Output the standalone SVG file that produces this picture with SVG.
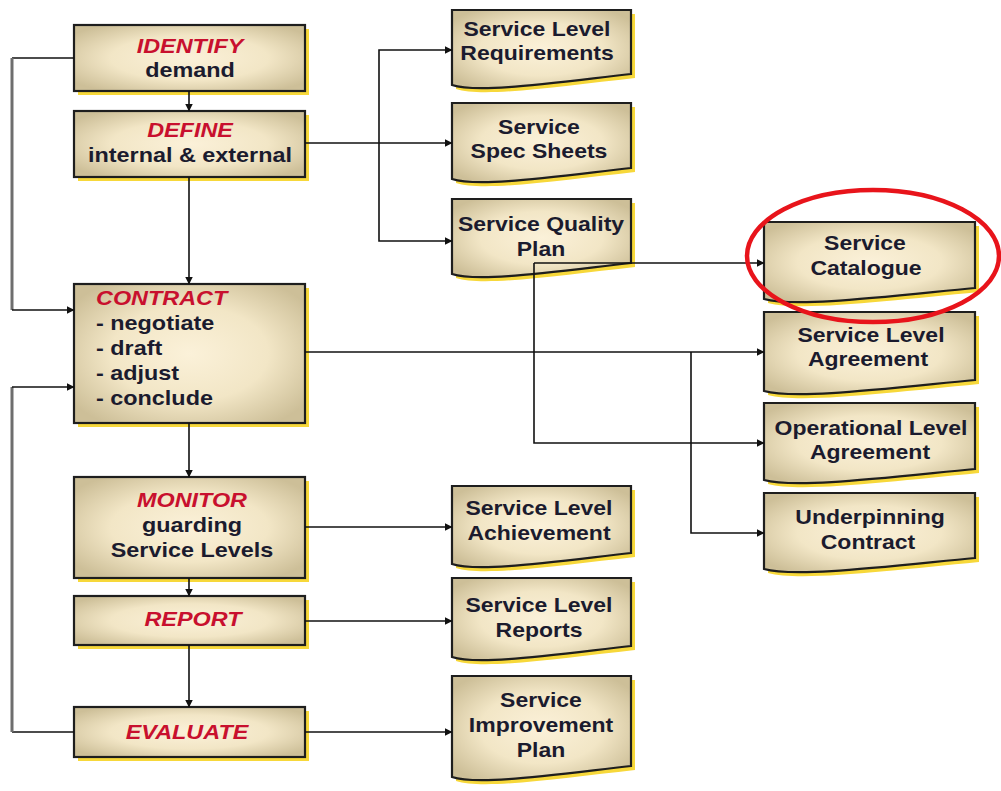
<svg xmlns="http://www.w3.org/2000/svg" width="1001" height="791" viewBox="0 0 1001 791">
<defs>
<radialGradient id="g" cx="0.5" cy="0.5" r="0.62">
<stop offset="0" stop-color="#fbf1d9"/>
<stop offset="0.55" stop-color="#f2e6c6"/>
<stop offset="1" stop-color="#cdbf98"/>
</radialGradient>
<marker id="ah" viewBox="0 0 8 8" refX="7.5" refY="4" markerWidth="8" markerHeight="8" markerUnits="userSpaceOnUse" orient="auto">
<path d="M0 0 L8 4 L0 8 Z" fill="#111"/>
</marker>
</defs>
<style>
.sh{fill:#f7d83a;}
.bx{fill:url(#g);stroke:#1e1e1e;stroke-width:2.2;}
.t{font-family:"Liberation Sans",Arial,sans-serif;font-weight:bold;font-size:20px;fill:#1b1b2e;text-anchor:middle;}
.r{fill:#c8102e;font-style:italic;}
.l{text-anchor:start;}
.c{fill:none;stroke:#111;stroke-width:1.6;}
.a{marker-end:url(#ah);}
.gr{fill:none;stroke:#6e6e6e;stroke-width:3;}
</style>
<rect width="1001" height="791" fill="#ffffff"/>

<g id="identify">
<rect class="sh" x="78" y="29" width="231" height="66"/>
<rect class="bx" x="74" y="25" width="231" height="66"/>
<text class="t" transform="translate(190 53) scale(1.17 1)"><tspan class="r">IDENTIFY</tspan></text>
<text class="t" transform="translate(190 77) scale(1.17 1)">demand</text>
</g>
<g id="define">
<rect class="sh" x="78" y="115" width="231" height="66"/>
<rect class="bx" x="74" y="111" width="231" height="66"/>
<text class="t" transform="translate(190 137) scale(1.17 1)"><tspan class="r">DEFINE</tspan></text>
<text class="t" transform="translate(190 162) scale(1.17 1)">internal &amp; external</text>
</g>
<g id="contract">
<rect class="sh" x="78" y="288" width="231" height="139"/>
<rect class="bx" x="74" y="284" width="231" height="139"/>
<text class="t l" transform="translate(96 305) scale(1.17 1)"><tspan class="r">CONTRACT</tspan></text>
<text class="t l" transform="translate(96 330) scale(1.17 1)">- negotiate</text>
<text class="t l" transform="translate(96 355) scale(1.17 1)">- draft</text>
<text class="t l" transform="translate(96 380) scale(1.17 1)">- adjust</text>
<text class="t l" transform="translate(96 405) scale(1.17 1)">- conclude</text>
</g>
<g id="monitor">
<rect class="sh" x="78" y="481" width="231" height="101"/>
<rect class="bx" x="74" y="477" width="231" height="101"/>
<text class="t" transform="translate(192 507) scale(1.17 1)"><tspan class="r">MONITOR</tspan></text>
<text class="t" transform="translate(192 532) scale(1.17 1)">guarding</text>
<text class="t" transform="translate(192 557) scale(1.17 1)">Service Levels</text>
</g>
<g id="report">
<rect class="sh" x="78" y="600" width="231" height="49"/>
<rect class="bx" x="74" y="596" width="231" height="49"/>
<text class="t" transform="translate(193 626) scale(1.17 1)"><tspan class="r">REPORT</tspan></text>
</g>
<g id="evaluate">
<rect class="sh" x="78" y="711" width="231" height="50"/>
<rect class="bx" x="74" y="707" width="231" height="50"/>
<text class="t" transform="translate(187 739) scale(1.17 1)"><tspan class="r">EVALUATE</tspan></text>
</g>

<g id="slr">
<path class="sh" transform="translate(4 4)" d="M452 10 H631 V74 C559 82 479 94 452 85 Z"/>
<path class="bx" d="M452 10 H631 V74 C559 82 479 94 452 85 Z"/>
<text class="t" transform="translate(537 36) scale(1.15 1)">Service Level</text>
<text class="t" transform="translate(537 60) scale(1.15 1)">Requirements</text>
</g>
<g id="specsheets">
<path class="sh" transform="translate(4 4)" d="M452 103 H631 V168 C559 176 479 188 452 179 Z"/>
<path class="bx" d="M452 103 H631 V168 C559 176 479 188 452 179 Z"/>
<text class="t" transform="translate(539 134) scale(1.15 1)">Service</text>
<text class="t" transform="translate(539 158) scale(1.15 1)">Spec Sheets</text>
</g>
<g id="sqp">
<path class="sh" transform="translate(4 4)" d="M452 199 H631 V263 C559 271 479 283 452 274 Z"/>
<path class="bx" d="M452 199 H631 V263 C559 271 479 283 452 274 Z"/>
<text class="t" transform="translate(541 231) scale(1.15 1)">Service Quality</text>
<text class="t" transform="translate(541 256) scale(1.15 1)">Plan</text>
</g>
<g id="slach">
<path class="sh" transform="translate(4 4)" d="M452 486 H631 V553 C559 561 479 573 452 564 Z"/>
<path class="bx" d="M452 486 H631 V553 C559 561 479 573 452 564 Z"/>
<text class="t" transform="translate(539 515) scale(1.15 1)">Service Level</text>
<text class="t" transform="translate(539 540) scale(1.15 1)">Achievement</text>
</g>
<g id="slreports">
<path class="sh" transform="translate(4 4)" d="M452 578 H631 V646 C559 654 479 666 452 657 Z"/>
<path class="bx" d="M452 578 H631 V646 C559 654 479 666 452 657 Z"/>
<text class="t" transform="translate(539 612) scale(1.15 1)">Service Level</text>
<text class="t" transform="translate(539 637) scale(1.15 1)">Reports</text>
</g>
<g id="sip">
<path class="sh" transform="translate(4 4)" d="M452 676 H631 V766 C559 774 479 786 452 777 Z"/>
<path class="bx" d="M452 676 H631 V766 C559 774 479 786 452 777 Z"/>
<text class="t" transform="translate(541 707) scale(1.15 1)">Service</text>
<text class="t" transform="translate(541 732) scale(1.15 1)">Improvement</text>
<text class="t" transform="translate(541 757) scale(1.15 1)">Plan</text>
</g>

<g id="catalogue">
<path class="sh" transform="translate(4 4)" d="M764 222 H975 V288 C891 296 796 308 764 299 Z"/>
<path class="bx" d="M764 222 H975 V288 C891 296 796 308 764 299 Z"/>
<text class="t" transform="translate(865 250) scale(1.15 1)">Service</text>
<text class="t" transform="translate(866 275) scale(1.15 1)">Catalogue</text>
</g>
<g id="sla">
<path class="sh" transform="translate(4 4)" d="M764 312 H975 V380 C891 388 796 400 764 391 Z"/>
<path class="bx" d="M764 312 H975 V380 C891 388 796 400 764 391 Z"/>
<text class="t" transform="translate(871 342) scale(1.15 1)">Service Level</text>
<text class="t" transform="translate(868 366) scale(1.15 1)">Agreement</text>
</g>
<g id="ola">
<path class="sh" transform="translate(4 4)" d="M764 403 H975 V469 C891 477 796 489 764 480 Z"/>
<path class="bx" d="M764 403 H975 V469 C891 477 796 489 764 480 Z"/>
<text class="t" transform="translate(871 435) scale(1.15 1)">Operational Level</text>
<text class="t" transform="translate(870 459) scale(1.15 1)">Agreement</text>
</g>
<g id="uc">
<path class="sh" transform="translate(4 4)" d="M764 493 H975 V558 C891 566 796 578 764 569 Z"/>
<path class="bx" d="M764 493 H975 V558 C891 566 796 578 764 569 Z"/>
<text class="t" transform="translate(870 524) scale(1.15 1)">Underpinning</text>
<text class="t" transform="translate(868 549) scale(1.15 1)">Contract</text>
</g>

<g id="connectors">
<path class="c" d="M74 58 H12"/>
<path class="gr" d="M12 58 V310"/>
<path class="c a" d="M12 310 H74"/>
<path class="c" d="M74 732 H12"/>
<path class="gr" d="M12 732 V387"/>
<path class="c a" d="M12 387 H74"/>
<path class="c a" d="M189 91 V111"/>
<path class="c a" d="M189 177 V284"/>
<path class="c a" d="M189 423 V477"/>
<path class="c a" d="M189 578 V596"/>
<path class="c a" d="M189 645 V707"/>
<path class="c a" d="M305 143 H452"/>
<path class="c a" d="M379 143 V50 H452"/>
<path class="c a" d="M379 143 V241 H452"/>
<path class="c a" d="M534 263 H764"/>
<path class="c a" d="M534 263 V443 H764"/>
<path class="c a" d="M305 352 H764"/>
<path class="c a" d="M691 352 V533 H764"/>
<path class="c a" d="M305 527 H452"/>
<path class="c a" d="M305 621 H452"/>
<path class="c a" d="M305 732 H452"/>
</g>

<g id="highlight">
<ellipse cx="873" cy="256" rx="126" ry="66" fill="none" stroke="#e8141b" stroke-width="4.5"/>
</g>
</svg>
